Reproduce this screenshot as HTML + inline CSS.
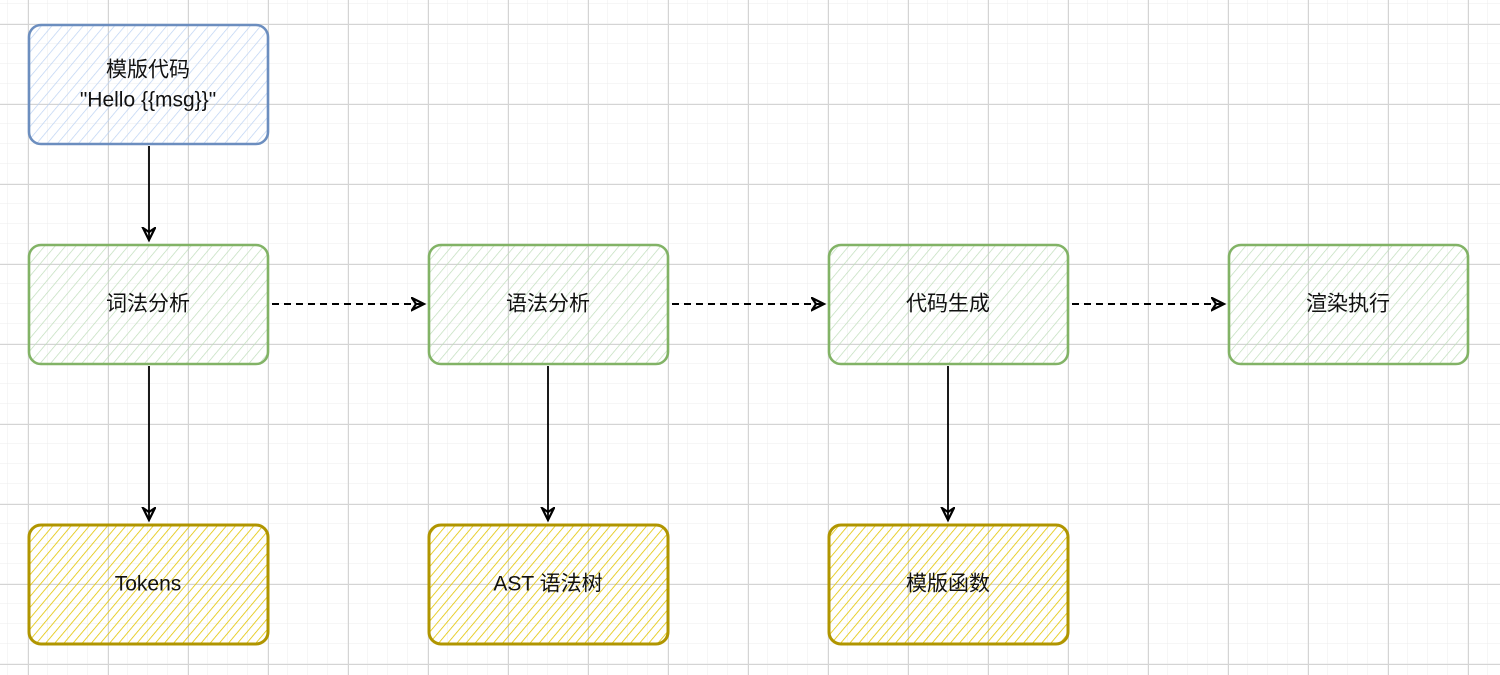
<!DOCTYPE html>
<html><head><meta charset="utf-8"><style>
html,body{margin:0;padding:0;background:#fff;}
svg{display:block;}
text{font-family:"Liberation Sans","Noto Sans CJK SC",sans-serif;font-size:21px;fill:#111;text-anchor:middle;dominant-baseline:central;}
</style></head><body>
<svg width="1500" height="675" viewBox="0 0 1500 675">
<defs>
<pattern id="gmin" width="20" height="20" patternUnits="userSpaceOnUse" x="8" y="4">
<path d="M20 0V20M0 20H20" stroke="#ececec" stroke-width="1" fill="none"/></pattern>
<pattern id="gmaj" width="80" height="80" patternUnits="userSpaceOnUse" x="28" y="24">
<path d="M0.5 0V80M0 0.5H80" stroke="#d4d4d4" stroke-width="1" fill="none"/></pattern>
<pattern id="hb" width="8" height="8" patternUnits="userSpaceOnUse" patternTransform="rotate(40)">
<line x1="0" y1="0" x2="0" y2="8" stroke="#bcd2f3" stroke-width="1.4"/></pattern>
<pattern id="hg" width="8" height="8" patternUnits="userSpaceOnUse" patternTransform="rotate(40)">
<line x1="0" y1="0" x2="0" y2="8" stroke="#bfddba" stroke-width="1.4"/></pattern>
<pattern id="hy" width="7" height="7" patternUnits="userSpaceOnUse" patternTransform="rotate(40)">
<line x1="0" y1="0" x2="0" y2="7" stroke="#e2c400" stroke-width="1.6"/></pattern>
<marker id="ar" markerWidth="16" markerHeight="16" refX="13" refY="7" orient="auto" markerUnits="userSpaceOnUse">
<path d="M1 1L13 7L1 13L5 7Z" fill="none" stroke="#000" stroke-width="2.2"/></marker>
</defs>
<rect width="1500" height="675" fill="url(#gmin)"/>
<rect width="1500" height="675" fill="url(#gmaj)"/>

<g stroke-width="2.6">
<rect x="29" y="25" width="239" height="119" rx="12" fill="url(#hb)" stroke="#6c8ebf"/>
<rect x="29" y="245" width="239" height="119" rx="12" fill="url(#hg)" stroke="#82b366"/>
<rect x="429" y="245" width="239" height="119" rx="12" fill="url(#hg)" stroke="#82b366"/>
<rect x="829" y="245" width="239" height="119" rx="12" fill="url(#hg)" stroke="#82b366"/>
<rect x="1229" y="245" width="239" height="119" rx="12" fill="url(#hg)" stroke="#82b366"/>
<rect x="29" y="525" width="239" height="119" rx="12" fill="url(#hy)" stroke="#b09500" stroke-width="3"/>
<rect x="429" y="525" width="239" height="119" rx="12" fill="url(#hy)" stroke="#b09500" stroke-width="3"/>
<rect x="829" y="525" width="239" height="119" rx="12" fill="url(#hy)" stroke="#b09500" stroke-width="3"/>
</g>

<g stroke="#000" stroke-width="1.8" fill="none">
<path d="M149 146 L149 240" marker-end="url(#ar)"/>
<path d="M149 366 L149 520" marker-end="url(#ar)"/>
<path d="M548 366 L548 520" marker-end="url(#ar)"/>
<path d="M948 366 L948 520" marker-end="url(#ar)"/>
<path d="M272 304 L424 304" stroke-width="2" stroke-dasharray="7 5" marker-end="url(#ar)"/>
<path d="M672 304 L824 304" stroke-width="2" stroke-dasharray="7 5" marker-end="url(#ar)"/>
<path d="M1072 304 L1224 304" stroke-width="2" stroke-dasharray="7 5" marker-end="url(#ar)"/>
</g>

<text x="148" y="70">模版代码</text>
<text x="148" y="100">"Hello {{msg}}"</text>
<text x="148" y="304">词法分析</text>
<text x="548" y="304">语法分析</text>
<text x="948" y="304">代码生成</text>
<text x="1348" y="304">渲染执行</text>
<text x="148" y="584">Tokens</text>
<text x="548" y="584">AST 语法树</text>
<text x="948" y="584">模版函数</text>
</svg>
</body></html>
